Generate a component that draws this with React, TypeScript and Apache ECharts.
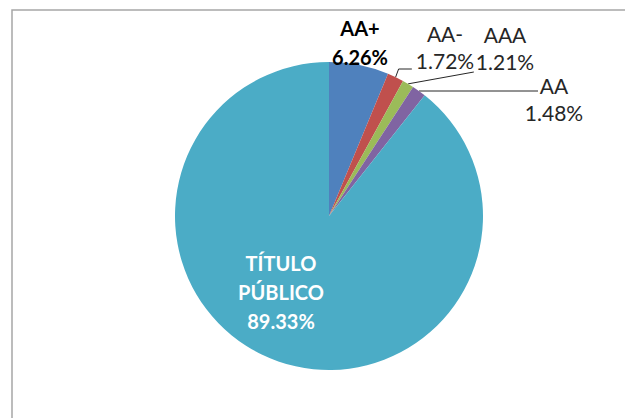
import React, { useEffect, useRef } from "react";
import * as echarts from "echarts";

const categories = ["AA+", "AA-", "AAA", "AA", "TÍTULO PÚBLICO"];
const labelNames = ["AA+", "AA-", "AAA", "AA", "TÍTULO\nPÚBLICO"];
const shares = [6.26, 1.72, 1.21, 1.48, 89.33];
const colors = ["#4F81BD", "#C0504D", "#9BBB59", "#8064A2", "#4BACC6"];

// label centres (layout only)
const labelCenters: [number, number][] = [
  [360, 42],
  [445, 47],
  [505, 48],
  [554, 99],
  [281, 292],
];

export default function App() {
  const ref = useRef<HTMLDivElement>(null);
  useEffect(() => {
    if (!ref.current) return;
    const chart = echarts.init(ref.current, undefined, { renderer: "svg" });
    const data = categories.map((c, i) => {
      const bold = i === 0 || i === 4;
      return {
        name: c,
        value: shares[i],
        itemStyle: { color: colors[i] },
        label: {
          show: true,
          position: i === 4 ? "inside" : "outside",
          formatter: () => `${labelNames[i]}\n${shares[i].toFixed(2)}%`,
          color: i === 4 ? "#ffffff" : i === 0 ? "#000000" : "#262626",
          fontFamily: "Lato",
          fontWeight: bold ? "bold" : "normal",
          fontSize: bold ? 20 : 21,
          lineHeight: bold ? 29 : 27,
          align: "center",
        },
        labelLine: { show: i !== 0 && i !== 4 },
      };
    });
    chart.setOption({
      animation: false,
      backgroundColor: "#ffffff",
      graphic: [
        {
          type: "rect",
          shape: { x: 12, y: 10, width: 640, height: 440 },
          style: { fill: "none", stroke: "#a6a6a6", lineWidth: 1.5 },
          silent: true,
        },
      ],
      series: [
        {
          type: "pie",
          center: [329, 216],
          radius: 154,
          startAngle: 90,
          clockwise: true,
          avoidLabelOverlap: false,
          data,
          labelLine: {
            show: true,
            length: 10,
            length2: 10,
            lineStyle: { color: "#262626", width: 1 },
          },
          labelLayout: (params: any) => {
            const i = params.dataIndex;
            const p = labelCenters[i];
            const out: any = {
              x: p[0],
              y: p[1],
              align: "center",
              verticalAlign: "middle",
            };
            const pts = params.labelLinePoints;
            const lr = params.labelRect;
            if (pts && pts.length && lr && i >= 1 && i <= 3) {
              const a = pts[0];
              const w = lr.width;
              const h = lr.height;
              const left = p[0] - w / 2;
              const bottom = p[1] + h / 2;
              if (i === 1) {
                const end = [left - 4, bottom - 5];
                out.labelLinePoints = [a, [a[0] + 3, end[1]], end];
              } else if (i === 2) {
                const end = [left - 2, bottom - 3];
                out.labelLinePoints = [a, end, end];
              } else {
                const end = [p[0] - 16, p[1] - 8];
                out.labelLinePoints = [a, [a[0] + 4, end[1]], end];
              }
            }
            return out;
          },
        },
      ],
    });
    return () => chart.dispose();
  }, []);
  return (
    <div
      ref={ref}
      style={{ position: "fixed", left: 0, top: 0, width: 625, height: 418 }}
    />
  );
}
